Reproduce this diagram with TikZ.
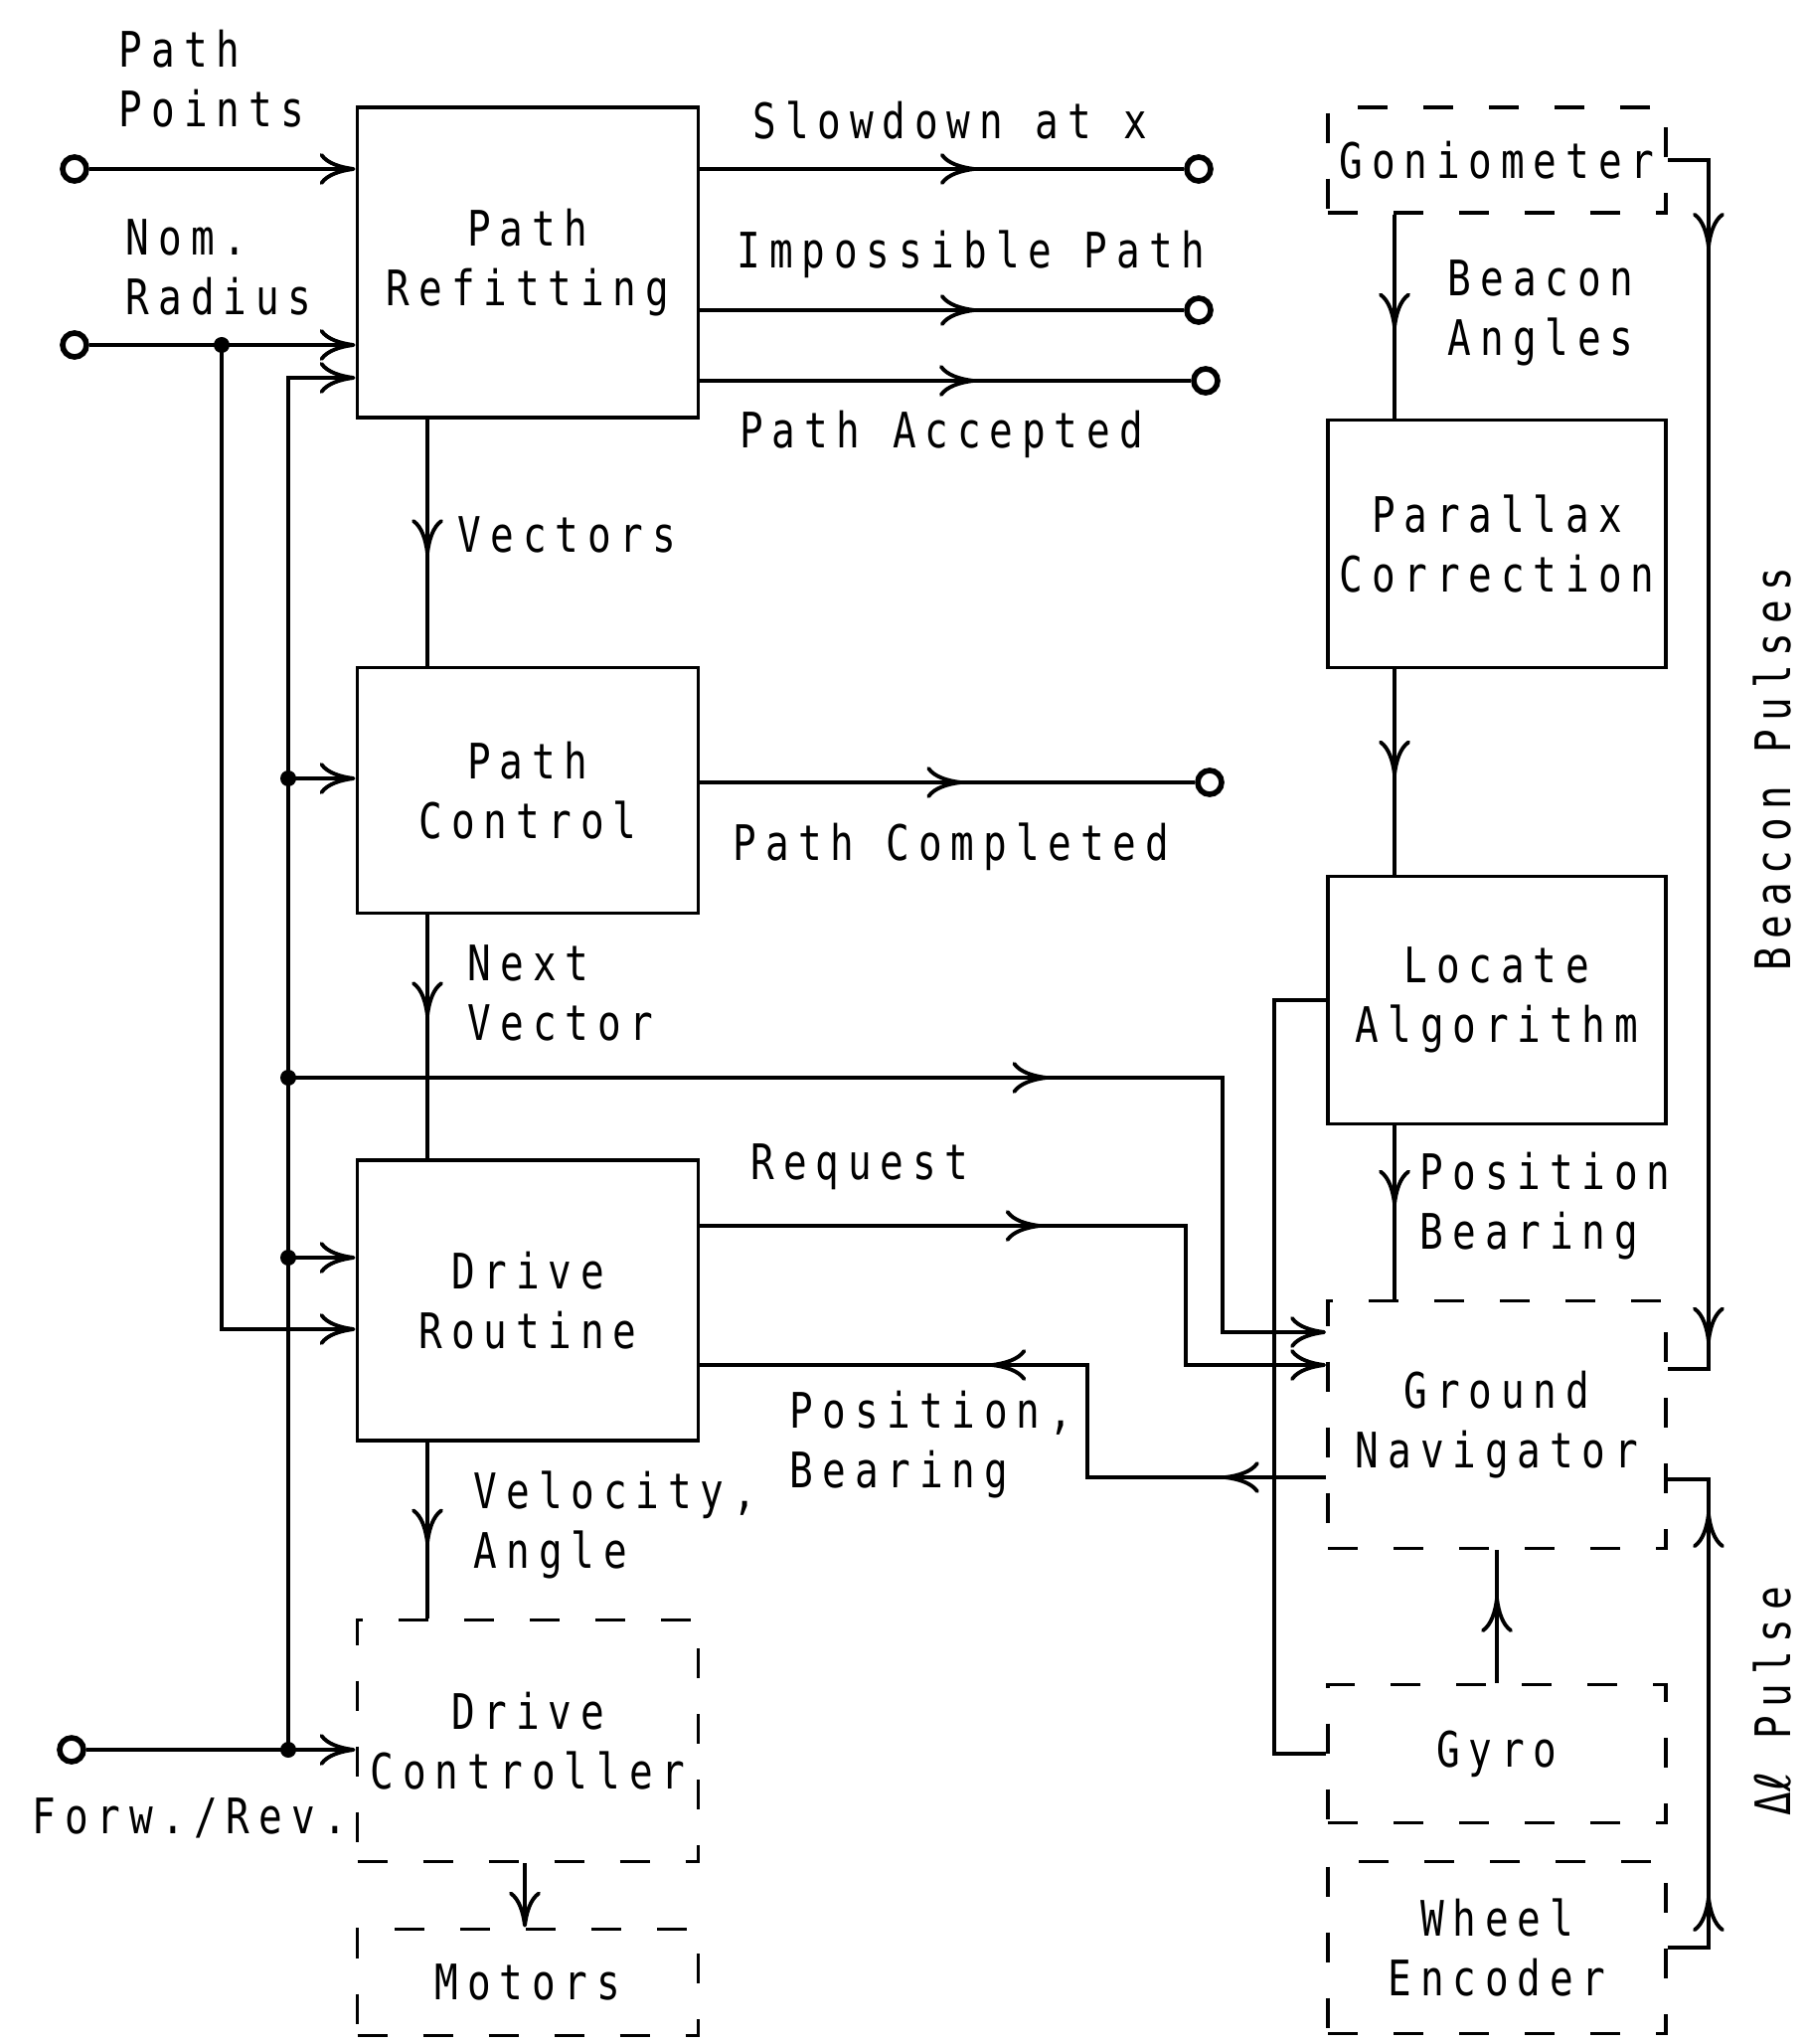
\documentclass[tikz,border=0pt]{standalone}
\usepackage{fontspec}
\setmainfont{DejaVu Sans Mono}[FakeStretch=0.8, LetterSpace=18]
\newfontfamily\symfont{DejaVu Sans}
\usetikzlibrary{arrows.meta, positioning, calc, decorations.markings}

\begin{document}
\begin{tikzpicture}[
    line width=1.1pt,
    >={To[length=3.6mm, width=3.2mm]},
    blk/.style={draw, rectangle, minimum width=3.43cm, align=center, font=\fontsize{14}{17}\selectfont},
    dblk/.style={blk, dash pattern=on 3mm off 3.6mm},
    lbl/.style={align=left, inner sep=0pt, font=\fontsize{14}{17}\selectfont},
    term/.style={draw, circle, line width=1.6pt, minimum size=2.4mm, inner sep=0pt},
    jdot/.style={fill, circle, minimum size=1.6mm, inner sep=0pt},
    midarr/.style={postaction={decorate}, decoration={markings, mark=at position #1 with {\arrow{>}}}},
    midarr/.default=0.5,
    twoarr/.style 2 args={postaction={decorate}, decoration={markings,
        mark=at position #1 with {\arrow{>}}, mark=at position #2 with {\arrow{>}}}}
]
\useasboundingbox (0,0) rectangle (18.16,-20.56);

% Blocks
\node[blk, minimum height=3.12cm] (PR) at (5.31,-2.64) {Path\\Refitting};
\node[blk, minimum height=2.47cm] (PC) at (5.31,-7.95) {Path\\Control};
\node[blk, minimum height=2.82cm] (DR) at (5.31,-13.08) {Drive\\Routine};
\node[dblk, minimum height=2.43cm] (DC) at (5.31,-17.51) {Drive\\Controller};
\node[dblk, minimum height=1.07cm] (MO) at (5.31,-19.94) {Motors};

\node[dblk, minimum width=3.40cm, minimum height=1.06cm] (GO) at (15.06,-1.61) {Goniometer};
\node[blk, minimum width=3.40cm, minimum height=2.49cm] (PA) at (15.06,-5.47) {Parallax\\Correction};
\node[blk, minimum width=3.40cm, minimum height=2.49cm] (LA) at (15.06,-10.06) {Locate\\Algorithm};
\node[dblk, minimum width=3.40cm, minimum height=2.49cm] (GN) at (15.06,-14.33) {Ground\\Navigator};
\node[dblk, minimum width=3.40cm, minimum height=1.39cm] (GY) at (15.06,-17.64) {Gyro};
\node[dblk, minimum width=3.40cm, minimum height=1.73cm] (WE) at (15.06,-19.59) {Wheel\\Encoder};

% Terminals and junctions
\node[term] (inPts) at (0.75,-1.70) {};
\node[term] (inRad) at (0.75,-3.47) {};
\node[term] (inFwd) at (0.72,-17.60) {};
\node[term] (oSlow) at (12.06,-1.70) {};
\node[term] (oImp) at (12.06,-3.12) {};
\node[term] (oAcc) at (12.13,-3.83) {};
\node[term] (oDone) at (12.17,-7.87) {};

\node[jdot] (jRad) at (2.23,-3.47) {};
\node[jdot] (b1) at (2.90,-7.83) {};
\node[jdot] (b2) at (2.90,-10.84) {};
\node[jdot] (b3) at (2.90,-12.65) {};
\node[jdot] (b4) at (2.90,-17.60) {};
\coordinate (bTop) at (2.90,-3.80);
\coordinate (rDR) at (2.23,-13.37);

\coordinate (gnA) at ([yshift=0.93cm]GN.west);
\coordinate (gnB) at ([yshift=0.60cm]GN.west);
\coordinate (gnC) at ([yshift=-0.53cm]GN.west);

% Labels
\node[lbl, anchor=west] at (1.18,-0.79) {Path\\Points};
\node[lbl, anchor=west] at (1.25,-2.69) {Nom.\\Radius};
\node[lbl] at (1.91,-18.29) {Forw./Rev.};
\node[lbl] at (9.56,-1.21) {Slowdown at x};
\node[lbl] at (9.77,-2.56) {Impossible Path};
\node[lbl] at (9.47,-4.37) {Path Accepted};
\node[lbl] at (9.57,-8.52) {Path Completed};
\node[lbl, anchor=west] at (4.59,-5.38) {Vectors};
\node[lbl, anchor=west] at (4.69,-9.99) {Next\\Vector};
\node[lbl] at (8.65,-11.74) {Request};
\node[lbl, anchor=west] at (4.75,-15.34) {Velocity,\\Angle};
\node[lbl, anchor=west] at (7.93,-14.53) {Position,\\Bearing};
\node[lbl, anchor=west] at (14.55,-3.15) {Beacon\\Angles};
\node[lbl, anchor=west] at (14.27,-12.13) {Position\\Bearing};
\node[lbl, rotate=90] at (17.83,-7.74) {Beacon Pulses};
\node[lbl, rotate=90] at (17.83,-17.11) {Δ{\symfont ℓ} Pulse};

% Inputs
\draw[->] (inPts.east) -- (inPts -| PR.west);
\draw[->] (inRad.east) -- (inRad -| PR.west);
\draw[->] (jRad.center) -- (rDR) -- (rDR -| DR.west);
\draw[->] (b4.center) -- (bTop) -- (bTop -| PR.west);
\draw[->] (inFwd.east) -- (inFwd -| DC.west);
\draw[->] (b1.center) -- (b1 -| PC.west);
\draw[->] (b3.center) -- (b3 -| DR.west);

% Outputs
\draw[midarr=0.57] (oSlow -| PR.east) -- (oSlow.west);
\draw[midarr=0.57] (oImp -| PR.east) -- (oImp.west);
\draw[midarr=0.56] (oAcc -| PR.east) -- (oAcc.west);
\draw[midarr=0.53] (oDone -| PC.east) -- (oDone.west);

% Main chain
\draw[midarr=0.55] ([xshift=-1.01cm]PR.south) -- ([xshift=-1.01cm]PC.north);
\draw[midarr=0.42] ([xshift=-1.01cm]PC.south) -- ([xshift=-1.01cm]DR.north);
\draw[midarr=0.58] ([xshift=-1.01cm]DR.south) -- ([xshift=-1.01cm]DC.north);
\draw[->] ([xshift=-0.03cm]DC.south) -- ([xshift=-0.03cm]MO.north);

% Navigation chain
\draw[midarr=0.56] ([xshift=-1.03cm]GO.south) -- ([xshift=-1.03cm]PA.north);
\draw[midarr=0.52] ([xshift=-1.03cm]PA.south) -- ([xshift=-1.03cm]LA.north);
\draw[midarr=0.46] ([xshift=-1.03cm]LA.south) -- ([xshift=-1.03cm]GN.north);
\draw[midarr=0.65] (GY.north) -- (GN.south);
\draw (LA.west) -- ++(-0.52,0) |- (GY.west);

% Links to the ground navigator
\draw[->, midarr=0.588] (b2.center) -| ([xshift=-1.04cm]gnA) -- (gnA);
\draw[->, midarr=0.446] (DR.east |- 0,-12.33) -| ([xshift=-1.41cm]gnB) -- (gnB);
\draw[twoarr={0.139}{0.607}] (gnC) -- ++(-2.40,0) |- (DR.east |- gnB);
\draw[twoarr={0.100}{0.948}] (GO.east) -| ([shift={(0.41cm,0.56cm)}]GN.east) -- ([yshift=0.56cm]GN.east);
\draw[twoarr={0.168}{0.866}] (WE.east) -| ([shift={(0.41cm,-0.55cm)}]GN.east) -- ([yshift=-0.55cm]GN.east);

\end{tikzpicture}
\end{document}
